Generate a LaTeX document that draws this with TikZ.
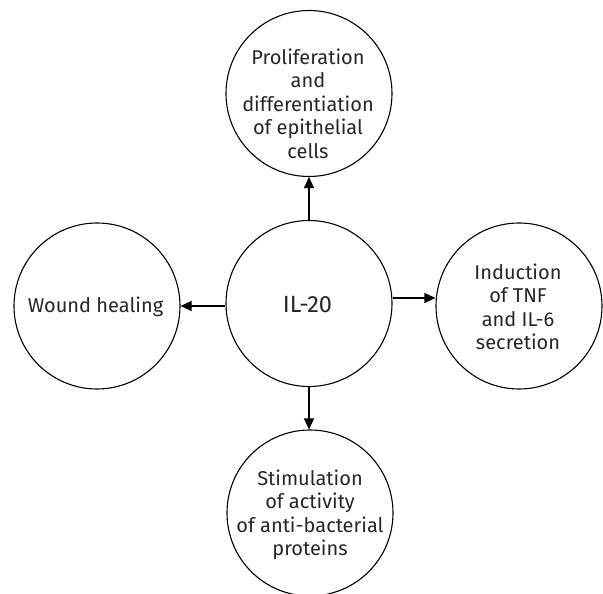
\documentclass[tikz,border=0pt]{standalone}
\usepackage{fontspec}
\setmainfont{Fira Sans}
\usetikzlibrary{arrows.meta}
\begin{document}
\begin{tikzpicture}[x=1pt,y=1pt,
  bubble/.style={circle,draw=black,line width=1.1pt,minimum size=166pt,inner sep=0pt},
  lbl/.style={align=center,font=\fontsize{20}{23.5}\selectfont,text=black!85,inner sep=0pt},
  arr/.style={line width=1.1pt,-{Triangle[length=11pt,width=10pt]}}]
\useasboundingbox (0,0) rectangle (603,594);
\node[bubble] (c) at (309,290.5) {};
\node[bubble] (t) at (309,500.5) {};
\node[bubble] (l) at (97,288) {};
\node[bubble] (r) at (519,288) {};
\node[bubble] (b) at (310,81) {};
\coordinate (ry) at (0,296);
\node[lbl,font=\fontsize{23.5}{27}\selectfont] (ct) at (307.5,289) {IL-20};
\node[lbl] (tt) at (308,490.5) {Proliferation\\and\\differentiation\\of epithelial\\cells};
\node[lbl] (lt) at (95.5,287) {Wound healing};
\node[lbl] (rt) at (518,287) {Induction\\of TNF\\and IL-6\\secretion};
\node[lbl] (bt) at (310,79) {Stimulation\\of activity\\of anti-bacterial\\proteins};
\draw[arr] (c.north) -- (t.south);
\draw[arr] (c.west |- l.east) -- (l.east);
\draw[arr] (c.east |- ry) -- (r.west |- ry);
\draw[arr] (c.south) -- (c.south |- b.north);
\end{tikzpicture}
\end{document}
